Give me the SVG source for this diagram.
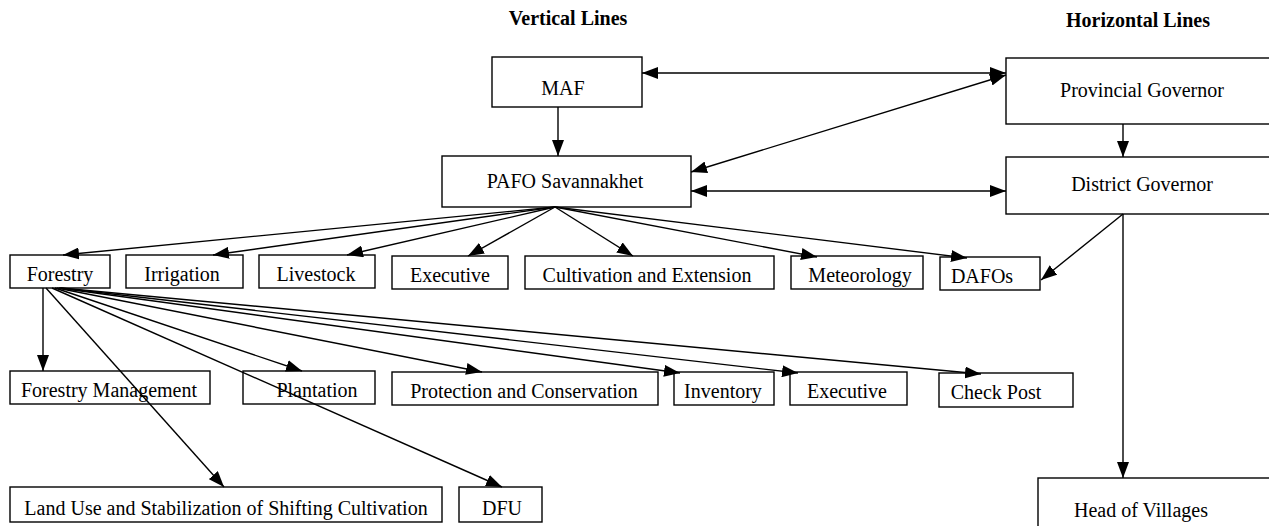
<svg xmlns="http://www.w3.org/2000/svg" width="1269" height="526" viewBox="0 0 1269 526">
<style>
.box{fill:#fff;stroke:#000;stroke-width:1.4}
.t{font-family:"Liberation Serif","Times New Roman",serif;font-size:20px;fill:#000;text-anchor:middle}
.h{font-family:"Liberation Serif","Times New Roman",serif;font-size:20px;font-weight:bold;fill:#000;text-anchor:middle}
.c{fill:none;stroke:#000;stroke-width:1.4}
</style>
<defs>
<marker id="ah" viewBox="0 0 16 12" markerWidth="16" markerHeight="12" refX="16" refY="6" orient="auto-start-reverse" markerUnits="userSpaceOnUse">
<path d="M0,0 L16,6 L0,12 z" fill="#000"/>
</marker>
</defs>
<rect width="1269" height="526" fill="#fff"/>
<text class="h" x="568" y="25">Vertical Lines</text>
<text class="h" x="1138" y="27">Horizontal Lines</text>
<g id="maf"><rect class="box" x="492" y="57" width="150" height="50"/><text class="t" x="563" y="95">MAF</text></g>
<g id="pafo"><rect class="box" x="442" y="156" width="249" height="51"/><text class="t" x="565" y="188">PAFO Savannakhet</text></g>
<g id="provincial"><rect class="box" x="1006" y="58" width="280" height="66"/><text class="t" x="1142" y="97">Provincial Governor</text></g>
<g id="district"><rect class="box" x="1006" y="157" width="280" height="57"/><text class="t" x="1142" y="191">District Governor</text></g>
<g id="forestry"><rect class="box" x="10" y="255" width="100" height="33"/><text class="t" x="60" y="281">Forestry</text></g>
<g id="irrigation"><rect class="box" x="126" y="255" width="117" height="33"/><text class="t" x="182" y="281">Irrigation</text></g>
<g id="livestock"><rect class="box" x="259" y="255" width="116" height="33"/><text class="t" x="316" y="281">Livestock</text></g>
<g id="executive1"><rect class="box" x="392" y="256" width="116" height="33"/><text class="t" x="450" y="282">Executive</text></g>
<g id="cultivation"><rect class="box" x="525" y="256" width="249" height="33"/><text class="t" x="647" y="282">Cultivation and Extension</text></g>
<g id="meteorology"><rect class="box" x="791" y="256" width="132" height="33"/><text class="t" x="860" y="282">Meteorology</text></g>
<g id="dafos"><rect class="box" x="940" y="257" width="100" height="33"/><text class="t" x="982" y="283">DAFOs</text></g>
<g id="forestry-management"><rect class="box" x="10" y="371" width="200" height="33"/><text class="t" x="109" y="397">Forestry Management</text></g>
<g id="plantation"><rect class="box" x="243" y="371" width="132" height="33"/><text class="t" x="317" y="397">Plantation</text></g>
<g id="protection"><rect class="box" x="392" y="372" width="266" height="33"/><text class="t" x="524" y="398">Protection and Conservation</text></g>
<g id="inventory"><rect class="box" x="674" y="372" width="100" height="33"/><text class="t" x="723" y="398">Inventory</text></g>
<g id="executive2"><rect class="box" x="790" y="372" width="117" height="33"/><text class="t" x="847" y="398">Executive</text></g>
<g id="checkpost"><rect class="box" x="939" y="373" width="134" height="34"/><text class="t" x="996" y="399">Check Post</text></g>
<g id="landuse"><rect class="box" x="10" y="487" width="432" height="35"/><text class="t" x="226" y="515">Land Use and Stabilization of Shifting Cultivation</text></g>
<g id="dfu"><rect class="box" x="459" y="487" width="83" height="35"/><text class="t" x="502" y="515">DFU</text></g>
<g id="head-villages"><rect class="box" x="1038" y="478" width="250" height="60"/><text class="t" x="1141" y="517">Head of Villages</text></g>
<g id="connectors">
<line class="c" x1="642" y1="73" x2="1006" y2="73" marker-start="url(#ah)" marker-end="url(#ah)"/>
<line class="c" x1="691" y1="172" x2="1006" y2="75" marker-start="url(#ah)" marker-end="url(#ah)"/>
<line class="c" x1="691" y1="191" x2="1006" y2="191" marker-start="url(#ah)" marker-end="url(#ah)"/>
<line class="c" x1="558" y1="107" x2="558" y2="156" marker-end="url(#ah)"/>
<line class="c" x1="1123" y1="124" x2="1123" y2="157" marker-end="url(#ah)"/>
<line class="c" x1="1123" y1="214" x2="1123" y2="478" marker-end="url(#ah)"/>
<line class="c" x1="1123" y1="214" x2="1041" y2="280" marker-end="url(#ah)"/>
<line class="c" x1="555" y1="207" x2="63" y2="255" marker-end="url(#ah)"/>
<line class="c" x1="555" y1="207" x2="213" y2="255" marker-end="url(#ah)"/>
<line class="c" x1="555" y1="207" x2="347" y2="255" marker-end="url(#ah)"/>
<line class="c" x1="555" y1="207" x2="468" y2="256" marker-end="url(#ah)"/>
<line class="c" x1="555" y1="207" x2="633" y2="256" marker-end="url(#ah)"/>
<line class="c" x1="555" y1="207" x2="817" y2="257" marker-end="url(#ah)"/>
<line class="c" x1="555" y1="207" x2="967" y2="258" marker-end="url(#ah)"/>
<line class="c" x1="43" y1="288" x2="43" y2="371" marker-end="url(#ah)"/>
<line class="c" x1="46" y1="288" x2="224" y2="487" marker-end="url(#ah)"/>
<line class="c" x1="52" y1="288" x2="502" y2="487" marker-end="url(#ah)"/>
<line class="c" x1="55" y1="288" x2="302" y2="371" marker-end="url(#ah)"/>
<line class="c" x1="57" y1="288" x2="482" y2="372" marker-end="url(#ah)"/>
<line class="c" x1="59" y1="288" x2="680" y2="373" marker-end="url(#ah)"/>
<line class="c" x1="60" y1="288" x2="798" y2="373" marker-end="url(#ah)"/>
<line class="c" x1="61" y1="288" x2="981" y2="374" marker-end="url(#ah)"/>
</g>
</svg>
